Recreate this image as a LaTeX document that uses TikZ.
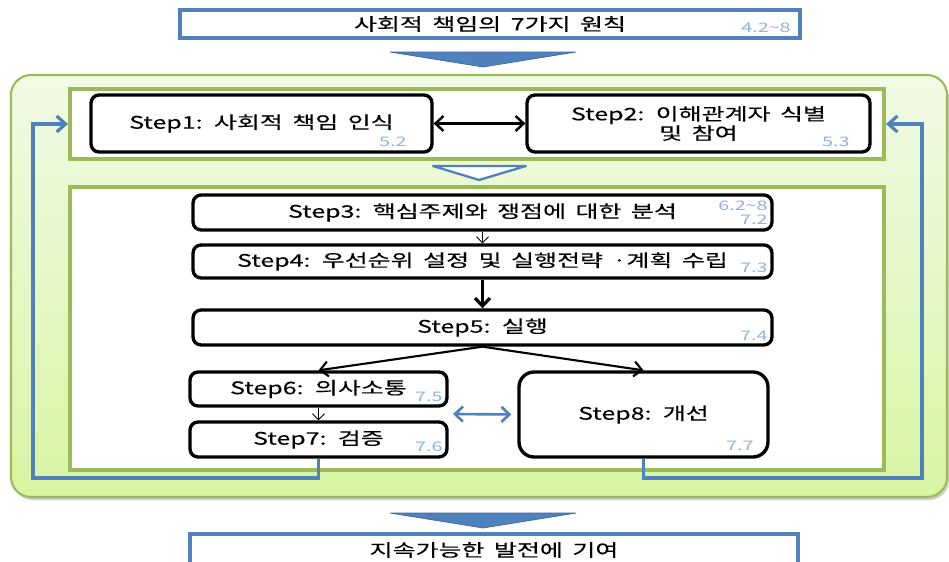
\documentclass[tikz,border=0pt]{standalone}
\usepackage{fontspec}
\setmainfont{Noto Sans CJK KR}[FakeStretch=1.45, WordSpace=1.7, FakeBold=0.25]
\newfontfamily\numfont{Noto Sans CJK KR}[FakeStretch=1.5]
\usetikzlibrary{arrows.meta}
\definecolor{fgreen}{HTML}{9BBB59}
\definecolor{fblue}{HTML}{4F81BD}
\definecolor{numblue}{HTML}{8DB3E2}
\definecolor{bgtop}{HTML}{F1FAE6}
\definecolor{bgbot}{HTML}{D7F5A2}

\begin{document}
\begin{tikzpicture}[x=0.02cm, y=-0.02cm,
    stepbox/.style={rectangle, rounded corners=0.16cm, draw=black, line width=1.9pt, fill=white, inner sep=0pt, font=\fontsize{9.8}{11}\selectfont, align=center},
    headbox/.style={rectangle, draw=fblue, line width=1.9pt, fill=white, inner sep=0pt, font=\fontsize{9.8}{11}\selectfont},
    frame/.style={rectangle, draw=fgreen, line width=2.4pt, fill=white, inner sep=0pt},
    lbl/.style={anchor=east, inner sep=0pt, text=numblue, font=\numfont\fontsize{7.5}{7.8}\selectfont, align=right},
    arr/.style={-{Straight Barb[length=0.16cm, width=0.3cm]}, line width=1.2pt},
    dbl_arr/.style={{Straight Barb[length=0.16cm, width=0.3cm]}-{Straight Barb[length=0.16cm, width=0.3cm]}, line width=1.4pt},
    thin_arr/.style={-{Straight Barb[length=0.12cm, width=0.24cm]}, line width=0.5pt},
    fb_arr/.style={-{Straight Barb[length=0.18cm, width=0.32cm]}, line width=1.8pt, draw=fblue},
    chevron/.style={fill=fblue, draw=fblue!80!black, line width=0.4pt, line join=round}
]
    \clip (0,0) rectangle (949,561);
    \fill[white] (0,0) rectangle (949,561);

    % Outer green panel
    \fill[black!20, rounded corners=0.4cm] (13,78) rectangle (949,500);
    \draw[fgreen, line width=1.2pt, rounded corners=0.4cm, top color=bgtop, bottom color=bgbot] (11,75) rectangle (947,497);

    % Frames
    \node[frame, minimum width=16.28cm, minimum height=1.4cm] (in1) at (477,124) {};
    \node[frame, minimum width=16.28cm, minimum height=5.66cm] (in2) at (477,328.5) {};

    % Head and foot boxes
    \node[headbox, minimum width=12.4cm, minimum height=0.56cm] (top) at (490,24) {사회적 책임의 7가지 원칙};
    \node[headbox, minimum width=12.16cm, minimum height=0.64cm] (bottom) at (494,550) {지속가능한 발전에 기여\hspace{0.4cm}};
    \node[lbl] (l0) at (791,28) {4.2\textasciitilde 8};

    % Chevrons
    \filldraw[chevron] (390,52) -- (576,52) -- (483,67) -- cycle;
    \filldraw[fblue, line width=1.3pt, fill=white, line join=round] (433,166) -- (526,166) -- (479,180) -- cycle;
    \filldraw[chevron] (390,513) -- (576,513) -- (483,528) -- cycle;

    % Steps
    \node[stepbox, minimum width=6.82cm, minimum height=1.14cm] (s1) at (261.5,123.5) {Step1: 사회적 책임 인식};
    \node[stepbox, minimum width=6.86cm, minimum height=1.14cm] (s2) at (698.5,123.5) {Step2: 이해관계자 식별\\및 참여};
    \node[stepbox, minimum width=11.58cm, minimum height=0.70cm] (s3) at (482.5,212.5) {Step3: 핵심주제와 쟁점에 대한 분석};
    \node[stepbox, minimum width=11.58cm, minimum height=0.66cm] (s4) at (482.5,261.5) {Step4: 우선순위 설정 및 실행전략 ·계획 수립};
    \node[stepbox, minimum width=11.58cm, minimum height=0.70cm] (s5) at (482.5,327.5) {Step5: 실행};
    \node[stepbox, minimum width=5.14cm, minimum height=0.68cm] (s6) at (318.5,389) {Step6: 의사소통};
    \node[stepbox, minimum width=5.14cm, minimum height=0.70cm] (s7) at (318.5,439.5) {Step7: 검증};
    \node[stepbox, rounded corners=0.3cm, minimum width=4.98cm, minimum height=1.70cm] (s8) at (643.5,414.5) {Step8: 개선};

    % Clause numbers
    \node[lbl] (l1) at (407,142) {5.2};
    \node[lbl] (l2) at (850,142) {5.3};
    \node[lbl] (l3) at (768,213) {6.2\textasciitilde 8\\7.2};
    \node[lbl] (l4) at (768,268) {7.3};
    \node[lbl] (l5) at (768,336) {7.4};
    \node[lbl] (l6) at (443,397) {7.5};
    \node[lbl] (l7) at (443,447) {7.6};
    \node[lbl] (l8) at (754,446) {7.7};

    % Flow
    \draw[dbl_arr] (s1) -- (s2);
    \draw[thin_arr] (s3) -- (s4);
    \draw[arr, line width=1.8pt] (s4) -- (s5);
    \draw[arr] (s5.south) -- (s6.north);
    \draw[arr] (s5.south) -- (s8.north);
    \draw[thin_arr] (s6) -- (s7);

    % Feedback
    \coordinate (g67) at (453,414);
    \coordinate (lcorner) at (33,478);
    \coordinate (rcorner) at (922,478);
    \draw[fb_arr, line width=1.5pt, {Straight Barb[length=0.16cm, width=0.3cm]}-{Straight Barb[length=0.16cm, width=0.3cm]}, shorten >=0.12cm] (g67) -- (s8.west);
    \draw[fb_arr] (s7.south) |- (lcorner) |- (in1.west);
    \draw[fb_arr] (s8.south) |- (rcorner) |- (in1.east);
\end{tikzpicture}
\end{document}
